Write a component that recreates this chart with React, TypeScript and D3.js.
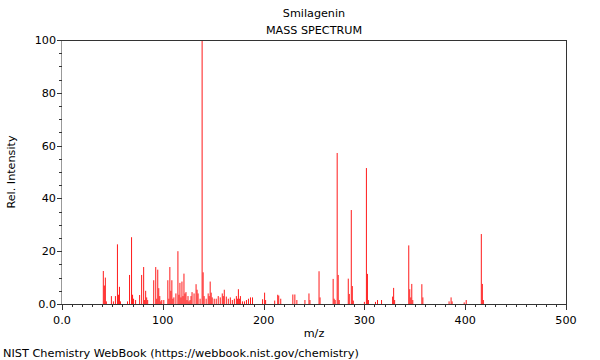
import React from 'react';
import * as d3 from 'd3';

const mzValues = [
  41, 42, 43, 44, 49, 51, 53, 55, 56, 57, 58, 65, 67, 69, 70, 71, 73, 77, 79, 81,
  82, 83, 84, 85, 91, 93, 94, 95, 96, 97, 98, 99, 101, 105, 106, 107, 108, 109, 110, 111,
  113, 115, 116, 117, 118, 119, 120, 121, 122, 123, 124, 125, 126, 127, 128, 129, 131, 133, 134, 135,
  137, 139, 140, 141, 143, 145, 146, 147, 148, 149, 151, 153, 155, 157, 159, 160, 161, 163, 165, 167,
  169, 171, 173, 174, 175, 176, 177, 179, 181, 183, 185, 187, 189, 199, 201, 202, 211, 214, 215, 217,
  229, 231, 233, 241, 245, 246, 255, 256, 269, 270, 271, 273, 274, 275, 284, 285, 287, 288, 289, 300,
  302, 303, 304, 311, 313, 317, 328, 329, 330, 344, 345, 346, 347, 348, 357, 358, 384, 386, 387, 399,
  401, 416, 417, 418,
];
const intensities = [
  12.5, 7, 10, 1, 3, 1, 3, 22.6, 3.5, 6.5, 1, 1, 11, 25.3, 3.5, 2, 1.5, 3.4, 11, 14,
  1.5, 5, 2.5, 1.5, 9, 14, 2, 13, 6, 3, 1, 1.5, 1.5, 9, 2, 14, 5, 9, 2, 2.5,
  4, 20, 3.5, 8, 2.5, 8.5, 3, 11.5, 4, 4.5, 1.5, 3, 1, 1.5, 3, 4.5, 4, 7.5, 5.4, 4,
  2, 100, 12, 3, 2, 4, 3, 8.5, 4.3, 2.5, 2, 2, 3, 2.5, 4, 3, 5.4, 2.8, 2, 2.5,
  1.5, 2, 3, 2, 5.6, 2, 3, 1, 1, 1.5, 2, 2.5, 2.5, 1.8, 4.3, 1.5, 1.3, 3.5, 3.2, 2,
  3.6, 3.6, 1.5, 1.5, 4, 1.5, 12.4, 2.5, 9.5, 2, 1.5, 57.2, 11, 1.5, 9.6, 3.8, 35.6, 6.8, 1.3, 0.8,
  51.5, 11.4, 1.5, 0.8, 1.5, 1.5, 2.8, 6.1, 1.5, 22.2, 5.6, 2.5, 7.6, 1.5, 7.5, 2.5, 1, 2.5, 1, 0.6,
  1.5, 26.5, 7.6, 1.5,
];
const xTickValues = [0, 100, 200, 300, 400, 500];
const xTickLabels = ['0.0', '100', '200', '300', '400', '500'];
const yTickValues = [0, 20, 40, 60, 80, 100];
const yTickLabels = ['0.0', '20', '40', '60', '80', '100'];

export default function App() {
  const W = 600;
  const H = 360;
  const left = 62, right = 566, top = 40, bottom = 304;
  const x = d3.scaleLinear().domain([0, 500]).range([left, right]);
  const y = d3.scaleLinear().domain([0, 100]).range([bottom, top]);
  const xMinor = d3.range(0, 501, 10);
  const yMinor = d3.range(0, 101, 5);
  const font = 'DejaVu Sans, Verdana, sans-serif';
  const dark = '#333';

  return (
    <svg width={W} height={H} style={{ position: 'absolute', left: 0, top: 0, background: '#fff' }}
      fontFamily={font} fontSize={11}>
      <rect x={0} y={0} width={W} height={H} fill="#fff" />
      <text x={314} y={17} textAnchor="middle" fill="#000" fontSize={11.2}>Smilagenin</text>
      <text x={314} y={34} textAnchor="middle" fill="#000" fontSize={11.2}>MASS SPECTRUM</text>

      {/* peaks */}
      <g stroke="#ff1a1a" strokeWidth={1}>
        {mzValues.map((m, i) => (
          <line key={i} x1={x(m)} x2={x(m)} y1={y(0)} y2={y(intensities[i])} />
        ))}
      </g>

      {/* frame */}
      <line x1={left} x2={right} y1={top + 0.5} y2={top + 0.5} stroke={dark} />
      <line x1={right + 0.5} x2={right + 0.5} y1={top} y2={bottom} stroke={dark} />
      <line x1={left - 0.5} x2={left - 0.5} y1={top} y2={bottom} stroke="#999" />
      <line x1={left} x2={right + 1} y1={bottom + 0.5} y2={bottom + 0.5} stroke={dark} />

      {/* x ticks */}
      <g stroke={dark}>
        {xMinor.map((v) => {
          const major = v % 100 === 0;
          const px = Math.round(x(v)) + 0.5;
          return <line key={v} x1={px} x2={px} y1={bottom} y2={bottom + (major ? 6 : 3)} />;
        })}
      </g>
      {xTickValues.map((v, i) => (
        <text key={v} x={x(v)} y={324} textAnchor="middle" fill="#000" fontSize={11.2}>{xTickLabels[i]}</text>
      ))}

      {/* y ticks */}
      <g stroke={dark}>
        {yMinor.map((v) => {
          const major = v % 20 === 0;
          const py = Math.round(y(v)) + 0.5;
          return <line key={v} x1={left - (major ? 5 : 3)} x2={left} y1={py} y2={py} />;
        })}
      </g>
      {yTickValues.map((v, i) => (
        <text key={v} x={56} y={y(v) + 4} textAnchor="end" fill="#000" fontSize={11.2}>{yTickLabels[i]}</text>
      ))}

      <text x={314} y={337} textAnchor="middle" fill="#000" fontSize={11.2}>m/z</text>
      <text transform="translate(15,172) rotate(-90)" textAnchor="middle" fill="#000" fontSize={11.2}>Rel. Intensity</text>
      <text x={3} y={357} fill="#000" fontSize={11.3}>NIST Chemistry WebBook (https://webbook.nist.gov/chemistry)</text>
    </svg>
  );
}
